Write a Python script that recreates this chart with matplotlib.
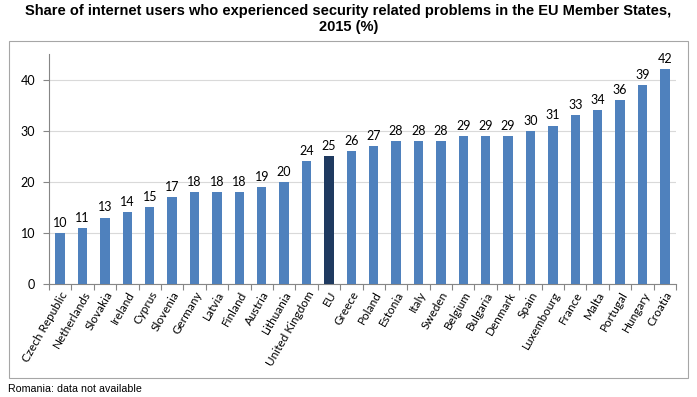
import matplotlib
matplotlib.use("Agg")
import matplotlib.pyplot as plt
from matplotlib.patches import Rectangle

countries = ["Czech Republic", "Netherlands", "Slovakia", "Ireland", "Cyprus", "Slovenia",
             "Germany", "Latvia", "Finland", "Austria", "Lithuania", "United Kingdom", "EU",
             "Greece", "Poland", "Estonia", "Italy", "Sweden", "Belgium", "Bulgaria",
             "Denmark", "Spain", "Luxembourg", "France", "Malta", "Portugal", "Hungary", "Croatia"]
values = [10, 11, 13, 14, 15, 17, 18, 18, 18, 19, 20, 24, 25, 26, 27, 28, 28, 28, 29, 29,
          29, 30, 31, 33, 34, 36, 39, 42]
yticks = [0, 10, 20, 30, 40]

title = "Share of internet users who experienced security related problems in the EU Member States,\n2015 (%)"
note = "Romania: data not available"

W, H = 697, 397
fig = plt.figure(figsize=(W / 100, H / 100), dpi=100)
FONT = "Lato"

# outer chart border
fig.patches.append(Rectangle((9 / W, 1 - 378 / H), (688 - 9) / W, (378 - 41) / H,
                             transform=fig.transFigure, fill=False, edgecolor="#A6A6A6", lw=0.8))

ax = fig.add_axes([49 / W, 1 - 284 / H, (676 - 49) / W, (284 - 54) / H])
x = list(range(len(countries)))
colors = ["#1F3A60" if c == "EU" else "#4F81BD" for c in countries]
ax.bar(x, values, width=0.42, color=colors, zorder=3)
for xi, v in zip(x, values):
    ax.text(xi, v + 0.8, str(v), ha="center", va="bottom", fontsize=9, family=FONT, zorder=4)

ax.set_xlim(-0.5, len(countries) - 0.5)
ax.set_ylim(0, 45)
ax.set_yticks(yticks)
ax.set_yticklabels([str(t) for t in yticks], fontsize=9, family=FONT)
ax.yaxis.grid(True, color="#D9D9D9", lw=0.8, zorder=0)
ax.tick_params(axis="y", length=4, color="#868686", pad=6)

ax.set_xticks([i + 0.5 for i in range(-1, len(countries))], minor=False)
ax.set_xticklabels([])
ax.tick_params(axis="x", which="major", length=4, color="#868686", direction="out")
ax.set_xticks(x, minor=True)
ax.set_xticklabels(countries, minor=True, rotation=60, ha="right", rotation_mode="anchor",
                   fontsize=8.5, family=FONT)
ax.tick_params(axis="x", which="minor", length=0, pad=4)

for s in ["top", "right"]:
    ax.spines[s].set_visible(False)
for s in ["left", "bottom"]:
    ax.spines[s].set_color("#868686")
    ax.spines[s].set_linewidth(0.8)

fig.text(0.5, 1 - 4 / H, title, ha="center", va="top", fontsize=10.5, fontweight="bold",
         family="Liberation Sans", linespacing=1.15)
fig.text(8 / W, 1 - 389 / H, note, ha="left", va="center", fontsize=7.7, family="Liberation Sans")

fig.savefig("out.png", dpi=100)
